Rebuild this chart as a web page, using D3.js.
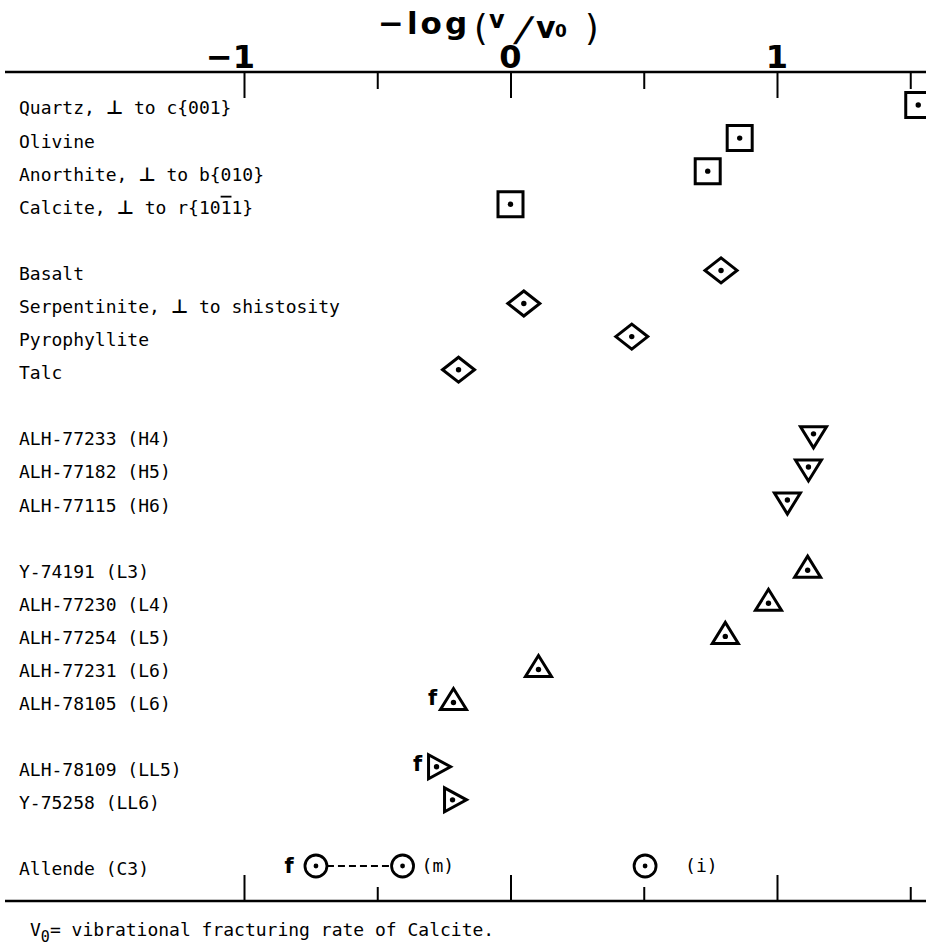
<!DOCTYPE html>
<html>
<head>
<meta charset="utf-8">
<script src="https://cdn.jsdelivr.net/npm/d3@7"></script>
<style>
  body { margin: 0; background: #fff; }
  text { fill: #000; }
</style>
</head>
<body>
<script>
(() => {
  // rows, top to bottom, one array per group
  const minerals = ["Quartz, \u22A5 to c{001}", "Olivine", "Anorthite, \u22A5 to b{010}", "Calcite, \u22A5 to r{101\u03041}"];
  const mineralValues = [1.53, 0.86, 0.74, 0.0];

  const rocks = ["Basalt", "Serpentinite, \u22A5 to shistosity", "Pyrophyllite", "Talc"];
  const rockValues = [0.79, 0.05, 0.455, -0.195];

  const hChondrites = ["ALH-77233 (H4)", "ALH-77182 (H5)", "ALH-77115 (H6)"];
  const hValues = [1.137, 1.118, 1.039];

  const lChondrites = ["Y-74191 (L3)", "ALH-77230 (L4)", "ALH-77254 (L5)", "ALH-77231 (L6)", "ALH-78105 (L6)"];
  const lValues = [1.115, 0.968, 0.806, 0.105, -0.214];

  const llChondrites = ["ALH-78109 (LL5)", "Y-75258 (LL6)"];
  const llValues = [-0.27, -0.21];

  const allende = "Allende (C3)";
  const allendeValues = [-0.73, -0.405, 0.505];
  const allendeNotes = ["f", "(m)", "(i)"];

  // samples marked "f"
  const fractured = ["ALH-78105 (L6)", "ALH-78109 (LL5)"];

  const tickValues = [-1, -0.5, 0, 0.5, 1, 1.5];
  const tickLabels = {"-1": "\u22121", "0": "0", "1": "1"};

  const groups = [
    {names: minerals, values: mineralValues, shape: "square"},
    {names: rocks, values: rockValues, shape: "diamond"},
    {names: hChondrites, values: hValues, shape: "down"},
    {names: lChondrites, values: lValues, shape: "up"},
    {names: llChondrites, values: llValues, shape: "right"}
  ];

  let width = 926, height = 947;
  let mono = "'DejaVu Sans Mono', monospace";
  let sans = "'DejaVu Sans', sans-serif";

  let x = d3.scaleLinear().domain([-1, 1]).range([244, 777]);
  let y = d3.scaleLinear().domain([0, 23]).range([108, 869]);

  // one slot per row, one blank slot between groups
  let rows = [];
  let slot = 0;
  groups.forEach(g => {
    g.names.forEach((n, i) => rows.push({name: n, value: g.values[i], shape: g.shape, slot: slot++}));
    slot++;
  });
  let allendeSlot = slot;

  // split a label so the perpendicular sign and the barred digit get their own tspans
  function pieces(s) {
    let out = [];
    for (let i = 0; i < s.length; i++) {
      let c = s[i];
      let last = out[out.length - 1];
      if (c === "\u22A5") out.push({t: c, perp: true});
      else if (s[i + 1] === "\u0304") { out.push({t: c, bar: true}); i++; }
      else if (last && !last.perp && !last.bar) last.t += c;
      else out.push({t: c});
    }
    return out;
  }

  let svg = d3.select("body").append("svg")
    .attr("width", width)
    .attr("height", height)
    .style("display", "block");

  svg.append("rect").attr("width", width).attr("height", height).attr("fill", "#fff");

  // title
  let title = svg.append("text").attr("font-family", sans).attr("font-weight", "bold");
  title.append("tspan").attr("x", 378).attr("y", 34)
    .attr("font-size", 31).attr("letter-spacing", 3).text("\u2212log");
  title.append("tspan").attr("x", 474).attr("y", 40).attr("font-size", 35).attr("font-weight", "normal").text("(");
  title.append("tspan").attr("x", 489).attr("y", 28).attr("font-size", 24).text("v");
  title.append("tspan").attr("x", 536).attr("y", 38).attr("font-size", 30).text("v");
  title.append("tspan").attr("x", 555).attr("y", 37).attr("font-size", 17).text("0");
  title.append("tspan").attr("x", 585).attr("y", 40).attr("font-size", 35).attr("font-weight", "normal").text(")");
  svg.append("text")
    .attr("transform", "translate(514,41) skewX(-18)")
    .attr("font-family", sans).attr("font-weight", "bold").attr("font-size", 34)
    .text("/");

  // top axis, ticks hanging down
  svg.append("line").attr("x1", 5).attr("x2", width).attr("y1", 72).attr("y2", 72)
    .attr("stroke", "#000").attr("stroke-width", 2.5);
  let topAxis = svg.append("g")
    .attr("transform", "translate(0,72)")
    .call(d3.axisBottom(x).tickValues(tickValues).tickSize(25).tickFormat(""));
  topAxis.select(".domain").remove();
  topAxis.selectAll(".tick line")
    .attr("stroke", "#000").attr("stroke-width", 2)
    .attr("y2", d => Number.isInteger(d) ? 26 : 17);

  svg.append("g").selectAll("text")
    .data(tickValues.filter(d => tickLabels[d] !== undefined))
    .join("text")
    .attr("x", d => d < 0 ? x(d) + 11 : x(d))
    .attr("y", 68)
    .attr("text-anchor", d => d < 0 ? "end" : "middle")
    .attr("font-family", sans).attr("font-weight", "bold").attr("font-size", 32)
    .text(d => tickLabels[d]);

  // bottom axis, ticks pointing up
  svg.append("line").attr("x1", 5).attr("x2", width).attr("y1", 901).attr("y2", 901)
    .attr("stroke", "#000").attr("stroke-width", 2.5);
  let bottomAxis = svg.append("g")
    .attr("transform", "translate(0,901)")
    .call(d3.axisTop(x).tickValues(tickValues).tickSize(26).tickFormat(""));
  bottomAxis.select(".domain").remove();
  bottomAxis.selectAll(".tick line")
    .attr("stroke", "#000").attr("stroke-width", 2)
    .attr("y2", d => Number.isInteger(d) ? -26 : -14);

  // row labels
  let labels = svg.append("g").selectAll("text")
    .data(rows.concat([{name: allende, slot: allendeSlot}]))
    .join("text")
    .attr("x", 19)
    .attr("y", d => y(d.slot))
    .attr("dy", "0.36em")
    .attr("font-family", mono).attr("font-size", 18);

  labels.selectAll("tspan")
    .data(d => pieces(d.name))
    .join("tspan")
    .attr("font-family", p => p.perp ? sans : null)
    .attr("font-weight", p => p.perp ? "bold" : null)
    .attr("font-size", p => p.perp ? 19 : null)
    .attr("text-decoration", p => p.bar ? "overline" : null)
    .text(p => p.t);

  // marker outlines, centred on 0,0
  let shapes = {
    square: "M-12.5,-12.5H12.5V12.5H-12.5Z",
    diamond: "M-16,0L0,-12.5L16,0L0,12.5Z",
    down: "M-13,-9L13,-9L0,12Z",
    up: "M-13,9L13,9L0,-12Z",
    right: "M-10,-12L12,0L-10,12Z"
  };
  let dotOffset = {square: [0, 0], diamond: [0, 0], down: [0, -2], up: [0, 2], right: [-2, 0]};

  let markers = svg.append("g").selectAll("g")
    .data(rows)
    .join("g")
    .attr("transform", d => `translate(${x(d.value)},${y(d.slot) - 3})`);

  markers.append("path")
    .attr("d", d => shapes[d.shape])
    .attr("fill", "#fff").attr("stroke", "#000").attr("stroke-width", 3)
    .attr("stroke-linejoin", "miter");

  markers.append("circle")
    .attr("cx", d => dotOffset[d.shape][0])
    .attr("cy", d => dotOffset[d.shape][1])
    .attr("r", 2.7).attr("fill", "#000");

  markers.filter(d => fractured.includes(d.name))
    .append("text")
    .attr("x", -21).attr("y", 4)
    .attr("text-anchor", "middle")
    .attr("font-family", sans).attr("font-weight", "bold").attr("font-size", 21)
    .text("f");

  // Allende: f ---- m, and i
  let ay = y(allendeSlot) - 3;
  svg.append("line")
    .attr("x1", x(allendeValues[0]) + 11).attr("x2", x(allendeValues[1]) - 11)
    .attr("y1", ay).attr("y2", ay)
    .attr("stroke", "#000").attr("stroke-width", 2.2).attr("stroke-dasharray", "7,4");

  let circles = svg.append("g").selectAll("g")
    .data(allendeValues)
    .join("g")
    .attr("transform", d => `translate(${x(d)},${ay})`);
  circles.append("circle").attr("r", 11)
    .attr("fill", "#fff").attr("stroke", "#000").attr("stroke-width", 2.8);
  circles.append("circle").attr("r", 2.4).attr("fill", "#000");

  circles.append("text")
    .attr("x", (d, i) => i === 0 ? -27 : (i === 1 ? 19 : 40))
    .attr("y", (d, i) => i === 0 ? 7 : 6)
    .attr("text-anchor", (d, i) => i === 0 ? "middle" : "start")
    .attr("font-family", (d, i) => i === 0 ? sans : mono)
    .attr("font-weight", (d, i) => i === 0 ? "bold" : "normal")
    .attr("font-size", (d, i) => i === 0 ? 21 : 18)
    .text((d, i) => allendeNotes[i]);

  // footnote
  let note = svg.append("text").attr("x", 30).attr("y", 936)
    .attr("font-family", mono).attr("font-size", 18);
  note.append("tspan").text("V");
  note.append("tspan").attr("dy", 6).attr("font-size", 15).text("0");
  note.append("tspan").attr("dy", -6).text("= vibrational fracturing rate of Calcite.");
})()
</script>
</body>
</html>
